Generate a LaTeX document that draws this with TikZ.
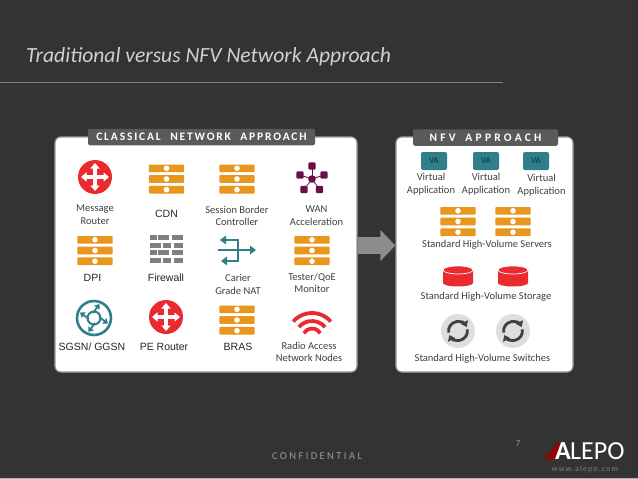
\documentclass[tikz,border=0pt]{standalone}
\usepackage{fontspec}
\usetikzlibrary{arrows.meta}
\setmainfont{Carlito}
\newfontfamily\carl{Carlito}
\newfontfamily\libs{Liberation Sans}
\newfontfamily\tabf[LetterSpace=16]{Carlito}
\newfontfamily\tabg[LetterSpace=28]{Carlito}
\newfontfamily\confs[LetterSpace=23]{Carlito}
\newfontfamily\wwwf[LetterSpace=14]{Carlito}
\definecolor{bgd}{HTML}{333333}
\definecolor{tabgr}{HTML}{5A5A5A}
\definecolor{orng}{HTML}{E8961C}
\definecolor{redd}{HTML}{EA2A2E}
\definecolor{teal2}{HTML}{2E7F8A}
\definecolor{plum}{HTML}{6A0F45}
\definecolor{txt}{HTML}{404040}
\tikzset{
  panel/.style={draw=black!40,line width=1.2pt,fill=white,rounded corners=6pt,inner sep=0pt},
  tabbox/.style={fill=tabgr,rounded corners=2pt,inner sep=0pt,text=white},
  lbl/.style={font=\carl\fontsize{10.5}{12.4}\selectfont,text=txt,align=center,inner sep=0pt},
  slbl/.style={font=\libs\fontsize{10.5}{12.5}\selectfont,text=black!85,align=center,inner sep=0pt},
  vabox/.style={fill=teal2,rounded corners=2pt,minimum width=26pt,minimum height=18pt,inner sep=0pt,text=black!60!teal2,font=\carl\fontsize{9}{10}\selectfont},
  serverstack/.pic={
    \foreach \yy in {-10.7,0,10.7}{
      \fill[orng,rounded corners=0.8pt] (-17.7,\yy-3.8) rectangle (17.7,\yy+3.8);
      \fill[white] (0,\yy) circle (2.8pt);
    }
  },
  routericon/.pic={
    \fill[redd] (0,0) circle (17pt);
    \draw[white,line width=3.4pt,{Triangle[length=5.5pt,width=9pt]}-{Triangle[length=5.5pt,width=9pt]}] (-14,0) -- (14,0);
    \draw[white,line width=3.4pt,{Triangle[length=5.5pt,width=9pt]}-{Triangle[length=5.5pt,width=9pt]}] (0,-14) -- (0,14);
  },
  wanicon/.pic={
    \foreach \a/\b in {0/-13,12/-4,7.5/10.5,-8/10.5,-12/-4}{
      \draw[plum,line width=0.8pt] (0,0) -- (\a,\b);
      \fill[plum,rounded corners=1pt] (\a-3.6,\b-3.6) rectangle (\a+3.6,\b+3.6);
    }
    \fill[plum] (0,0) circle (3.8pt);
  },
  wallicon/.pic={
    \foreach \yy in {-12.5,2.5}{
      \foreach \p/\q in {-16/-9,-8/3,6/17}{\fill[black!50] (\p,\yy-2.5) rectangle (\q,\yy+2.5);}
    }
    \foreach \yy in {-5,10}{
      \foreach \p/\q in {-16/-5,-3.5/5,8/17}{\fill[black!50] (\p,\yy-2.5) rectangle (\q,\yy+2.5);}
    }
  },
  naticon/.pic={
    \tikzset{tt/.style={teal2,line width=2.4pt,-{Triangle[length=6pt,width=8.5pt]}}}
    \draw[tt] (1,-10) -- (-17,-10);
    \draw[teal2,line width=2.4pt] (1,-11.2) -- (1,12.2);
    \draw[tt] (1,11) -- (-16,11);
    \draw[tt] (-19,0) -- (19,0);
  },
  sgsnicon/.pic={
    \draw[teal2,line width=2.6pt] (0,0) circle (17pt);
    \draw[teal2,line width=2pt] (0,0) circle (6.5pt);
    \foreach \r in {0,90,180,270}{
      \begin{scope}[rotate=\r]
        \draw[teal2,line width=1.8pt,-{Triangle[length=4.5pt,width=6.5pt]}] (-1,-5) -- (5.5,-14);
      \end{scope}
    }
  },
  radioicon/.pic={
    \draw[redd,line width=3.8pt] (41:25pt) arc (41:139:25pt);
    \draw[redd,line width=3.8pt] (40:17pt) arc (40:140:17pt);
    \draw[redd,line width=3.8pt] (30:9.5pt) arc (30:150:9.5pt);
  },
  cylicon/.pic={
    \fill[redd] (-15,-6) -- (-15,7) arc (180:360:15pt and 3.5pt) -- (15,-6) -- cycle;
    \draw[white,line width=0.7pt,fill=redd] (0,-6) ellipse (15pt and 4pt);
  },
  switchicon/.pic={
    \fill[black!13] (0,0) circle (17pt);
    \draw[black!75,line width=2.8pt,-{Triangle[length=5.5pt,width=8pt]}] (190:9.5pt) arc (190:25:9.5pt);
    \draw[black!75,line width=2.8pt,-{Triangle[length=5.5pt,width=8pt]}] (10:9.5pt) arc (10:-155:9.5pt);
  }
}
\begin{document}
\begin{tikzpicture}[x=1pt,y=-1pt]
\useasboundingbox (0,0) rectangle (638,479);
\fill[bgd] (0,0) rectangle (638,479);
\fill[black!30] (0,478) rectangle (638,479);

% title
\node[anchor=west,inner sep=0pt,text=black!18,font=\carl\itshape\fontsize{21.6}{26}\selectfont] (title) at (26,57) {Traditional versus NFV Network Approach};
\coordinate (ruleL) at (0,82);
\coordinate (ruleR) at (503,82);
\draw[black!50,line width=0.8pt] (ruleL) -- (ruleR);

% panels
\node[panel,minimum width=302pt,minimum height=235pt] (leftp) at (206,254.5) {};
\node[panel,minimum width=177pt,minimum height=235pt] (rightp) at (484.5,254.5) {};
\node[tabbox,font=\tabf\bfseries\fontsize{11.5}{13}\selectfont,minimum width=227pt,minimum height=16.5pt] (ltab) at (201.5,137) {CLASSICAL\hspace{5pt} NETWORK\hspace{5pt} APPROACH};
\node[tabbox,font=\tabg\bfseries\fontsize{11.5}{13}\selectfont,minimum width=145pt,minimum height=16.5pt] (rtab) at (485.5,137.5) {NFV\hspace{4pt} APPROACH};

% big arrow
\coordinate (ay) at (0,245.5);
\draw[black!45,line width=17pt,-{Triangle[length=15pt,width=30pt]}] (leftp.east |- ay) -- (rightp.west |- ay);

% left icons
\pic at (95,177) {routericon};
\pic at (166.5,179) {serverstack};
\pic at (237,179) {serverstack};
\pic at (312,179) {wanicon};
\pic at (95,250.5) {serverstack};
\pic at (166,250) {wallicon};
\pic at (237,250) {naticon};
\pic at (312,250.5) {serverstack};
\pic at (94,318) {sgsnicon};
\pic at (166,317) {routericon};
\pic at (237,320) {serverstack};
\pic at (312,338) {radioicon};

% left labels
\node[lbl] (l1) at (95,214.5) {Message\\Router};
\node[slbl] (l2) at (166.5,214) {CDN};
\node[lbl] (l3) at (237,216) {Session Border\\Controller};
\node[lbl] (l4) at (316.5,215.5) {WAN\\Acceleration};
\node[slbl] (l5) at (92.5,278) {DPI};
\node[slbl] (l6) at (166,278) {Firewall};
\node[lbl] (l7) at (238,284.5) {Carier\\Grade NAT};
\node[lbl] (l8) at (312,283) {Tester/QoE\\Monitor};
\node[slbl] (l9) at (92,347) {SGSN/ GGSN};
\node[slbl] (l10) at (164,347) {PE Router};
\node[slbl] (l11) at (238,347) {BRAS};
\node[lbl] (l12) at (309,352) {Radio Access\\Network Nodes};

% right side
\node[vabox] (va1) at (434,161) {VA};
\node[vabox] (va2) at (486,161) {VA};
\node[vabox] (va3) at (536,161) {VA};
\node[lbl] (v1) at (431,184) {Virtual\\Application};
\node[lbl] (v2) at (486,184) {Virtual\\Application};
\node[lbl] (v3) at (541.5,185) {Virtual\\Application};
\pic at (458,221.5) {serverstack};
\pic at (513,221.5) {serverstack};
\node[lbl] (s1) at (487,244.5) {Standard High-Volume Servers};
\pic at (458,276) {cylicon};
\pic at (513,276) {cylicon};
\node[lbl] (s2) at (486,297) {Standard High-Volume Storage};
\pic at (458,331) {switchicon};
\pic at (513,331) {switchicon};
\node[lbl] (s3) at (482.5,358.5) {Standard High-Volume Switches};

% footer
\node[text=black!40,inner sep=0pt,font=\confs\fontsize{10.5}{12}\selectfont] (conf) at (317,456) {CONFIDENTIAL};
\node[text=black!45,inner sep=0pt,font=\carl\fontsize{9.5}{10}\selectfont] (pg) at (518,443.5) {7};
\fill[red!60!black] (544,459) -- (558,443) -- (565,443) -- (556,459) -- cycle;
\node[anchor=base west,inner sep=0pt,text=white,font=\carl\bfseries\fontsize{26}{28}\selectfont] (logoa) at (555,459.5) {A};
\node[anchor=base west,inner sep=0pt,text=white,font=\carl\fontsize{26}{28}\selectfont] (logob) at (570,459.5) {LEPO};
\node[text=black!50,inner sep=0pt,font=\wwwf\fontsize{8}{9}\selectfont] (www) at (585,469) {www.alepo.com};
\end{tikzpicture}
\end{document}
